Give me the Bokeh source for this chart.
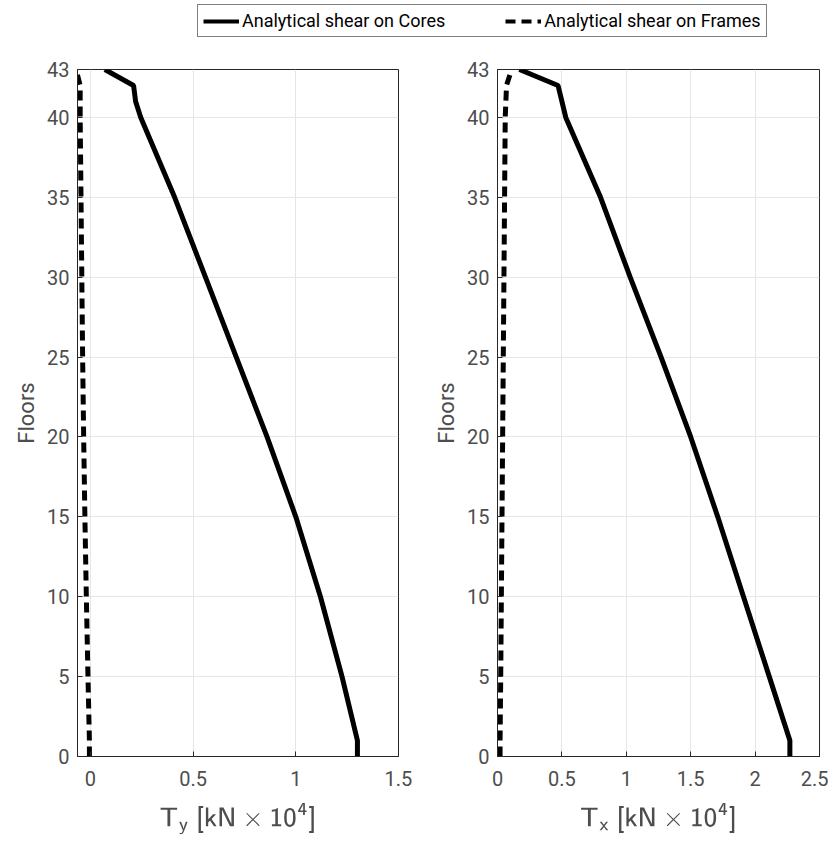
from bokeh.plotting import figure
from bokeh.layouts import column, row
from bokeh.models import FixedTicker, Range1d, Legend, LegendItem
from bokeh.embed import file_html
from bokeh.resources import INLINE

# floors sampled along the curves
floors = [0, 1, 5, 10, 15, 20, 25, 30, 35, 40, 41, 42, 43]
cores_y = [1.30, 1.30, 1.225, 1.12, 1.00, 0.86, 0.71, 0.56, 0.41, 0.245, 0.22, 0.21, 0.07]
frames_y = [-0.005, -0.005, -0.012, -0.02, -0.027, -0.033, -0.038, -0.042, -0.046, -0.05, -0.05, -0.05, -0.07]
cores_x = [2.27, 2.27, 2.11, 1.91, 1.71, 1.50, 1.27, 1.03, 0.80, 0.53, 0.50, 0.47, 0.17]
frames_x = [0.02, 0.02, 0.025, 0.03, 0.035, 0.04, 0.045, 0.05, 0.055, 0.06, 0.065, 0.07, 0.11]

y_ticks = [0, 5, 10, 15, 20, 25, 30, 35, 40, 43]
FONT = "Roboto"
TXT = "#262626"


def panel(xr, xticks, cores, frames, xlabel, width, border_left, border_right):
    p = figure(width=width, height=784, x_range=Range1d(*xr), y_range=Range1d(0, 43),
               output_backend="svg", toolbar_location=None,
               min_border_left=border_left, min_border_right=border_right,
               min_border_top=12, min_border_bottom=85)
    p.line(cores, floors, line_color="black", line_width=5)
    p.line(frames, floors, line_color="black", line_width=5, line_dash="10 6")
    p.xaxis.ticker = FixedTicker(ticks=xticks)
    p.yaxis.ticker = FixedTicker(ticks=y_ticks)
    for ax in (p.xaxis, p.yaxis):
        ax.major_label_text_font = FONT
        ax.major_label_text_font_size = "20px"
        ax.major_label_text_color = "#4d4d4d"
        ax.axis_line_color = TXT
        ax.major_tick_in = 5
        ax.major_tick_out = 0
        ax.minor_tick_line_color = None
        ax.major_tick_line_color = TXT
        ax.axis_label_text_font = FONT
        ax.axis_label_text_font_size = "22px"
        ax.axis_label_text_font_style = "normal"
        ax.axis_label_text_color = "#4d4d4d"
    p.xaxis.major_label_standoff = 14
    p.yaxis.major_label_standoff = 8
    p.xaxis.axis_label_standoff = 14
    p.yaxis.axis_label = "Floors"
    p.xaxis.axis_label = xlabel
    p.grid.grid_line_color = "#e6e6e6"
    p.outline_line_color = TXT
    p.outline_line_alpha = 1
    return p


p1 = panel((-0.063, 1.5), [0, 0.5, 1, 1.5], cores_y, frames_y,
           r"$$\mathsf{T_y\ [kN \times 10^4]}$$", 428, 77, 30)
p2 = panel((0, 2.5), [0, 0.5, 1, 1.5, 2, 2.5], cores_x, frames_x,
           r"$$\mathsf{T_x\ [kN \times 10^4]}$$", 400, 69, 9)

lg = figure(width=828, height=57, x_range=Range1d(0, 1), y_range=Range1d(0, 1),
            output_backend="svg", toolbar_location=None, min_border=0)
lg.axis.visible = False
lg.grid.visible = False
lg.outline_line_color = None
r1 = lg.line([0.5], [-5], line_color="black", line_width=4)
r2 = lg.line([0.5], [-5], line_color="black", line_width=4, line_dash="10 6")
leg = Legend(items=[LegendItem(label="Analytical shear on Cores", renderers=[r1]),
                    LegendItem(label="Analytical shear on Frames", renderers=[r2])],
             orientation="horizontal",
             label_text_font=FONT, label_text_font_size="18px", label_text_color="black",
             border_line_color="black", border_line_width=1, glyph_width=36,
             padding=5, spacing=60, margin=0, label_standoff=3)
lg.add_layout(leg)
lg.legend.location = (197, 20)

layout = column(lg, row(p1, p2))
open("out.html", "w").write(file_html(layout, INLINE))
